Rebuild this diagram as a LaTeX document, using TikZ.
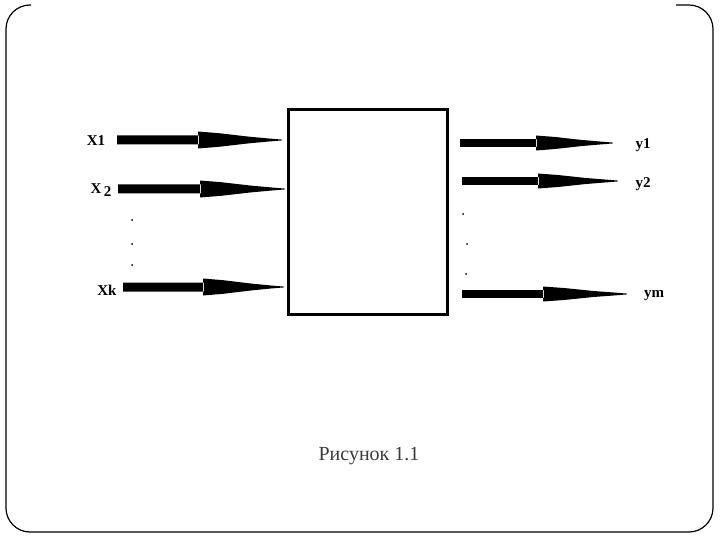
\documentclass[tikz,border=0pt]{standalone}
\usepackage{fontspec}
\setmainfont{Liberation Serif}
\usetikzlibrary{calc}
\definecolor{captiongray}{HTML}{3A3A3A}
\newcommand\fatarrow[5]{% start, head start, tip, shaft half, head half
  \fill let \p1=(#1), \p2=(#2), \p3=(#3) in
    (\x1,\y1-#4) rectangle (\x2+1pt,\y1+#4)
    (\x2,\y1-#5) -- ({\x2+0.25*(\x3-\x2)},{\y1-0.8*#5}) -- ({\x2+0.6*(\x3-\x2)},{\y1-0.4*#5}) -- (\x3-12pt,\y1-1.4pt) -- (\x3,\y1-0.4pt)
    -- (\x3,\y1+0.4pt) -- (\x3-12pt,\y1+1.4pt) -- ({\x2+0.6*(\x3-\x2)},{\y1+0.4*#5}) -- ({\x2+0.25*(\x3-\x2)},{\y1+0.8*#5}) -- (\x2,\y1+#5) -- cycle;}
\begin{document}
\begin{tikzpicture}[x=1pt,y=-1pt,
  lab/.style={font=\fontsize{15}{17}\selectfont\bfseries, inner sep=0pt},
  dotmark/.style={fill=black, draw=none, circle, inner sep=0pt, minimum size=2pt},
  frame/.style={line width=1.2pt, rounded corners=24pt},
  sysbox/.style={draw, line width=3pt, minimum width=159pt, minimum height=204pt, inner sep=0pt}]
\useasboundingbox (0,0) rectangle (720,540);
% frame (top edge left open)
\draw[frame] (31,5) -- (6,5) -- (6,532) -- (713,532) -- (713,5) -- (676,5);
% system box
\node[sysbox] (sys) at (367.5,212) {};
% input labels
\node[lab] (x1) at (96,141) {X1};
\node[lab] (x2) at (101,190) {X\,\raisebox{-3pt}{2}};
\node[lab] (xk) at (107,290) {Xk};
% output labels
\node[lab] (y1) at (643,145) {y1};
\node[lab] (y2) at (643,184) {y2};
\node[lab] (ym) at (654,296) {ym};
% arrow coordinates
\coordinate (a1s) at (117,140); \coordinate (a1h) at (198,140); \coordinate (a1t) at (282,140);
\coordinate (a2s) at (118,189); \coordinate (a2h) at (200,189); \coordinate (a2t) at (285,189);
\coordinate (aks) at (123,287); \coordinate (akh) at (203,287); \coordinate (akt) at (284,287);
\coordinate (b1s) at (460,143); \coordinate (b1h) at (536,143); \coordinate (b1t) at (613,143);
\coordinate (b2s) at (462,181); \coordinate (b2h) at (538,181); \coordinate (b2t) at (618,181);
\coordinate (bms) at (462,294); \coordinate (bmh) at (543,294); \coordinate (bmt) at (627,294);
\fatarrow{a1s}{a1h}{a1t}{4.5pt}{8.5pt}
\fatarrow{a2s}{a2h}{a2t}{4.5pt}{8.5pt}
\fatarrow{aks}{akh}{akt}{4.5pt}{8.5pt}
\fatarrow{b1s}{b1h}{b1t}{3.8pt}{7.5pt}
\fatarrow{b2s}{b2h}{b2t}{3.8pt}{7.5pt}
\fatarrow{bms}{bmh}{bmt}{3.8pt}{7.5pt}
% ellipsis dots
\node[dotmark] (ld1) at (132,220) {};
\node[dotmark] (ld2) at (132,244) {};
\node[dotmark] (ld3) at (132,265) {};
\node[dotmark] (rd1) at (463,214) {};
\node[dotmark] (rd2) at (467,244) {};
\node[dotmark] (rd3) at (466,274) {};
% caption
\node[font=\fontsize{20}{24}\selectfont, text=captiongray, inner sep=0pt] (cap) at (369,456) {Рисунок 1.1};
\end{tikzpicture}
\end{document}
